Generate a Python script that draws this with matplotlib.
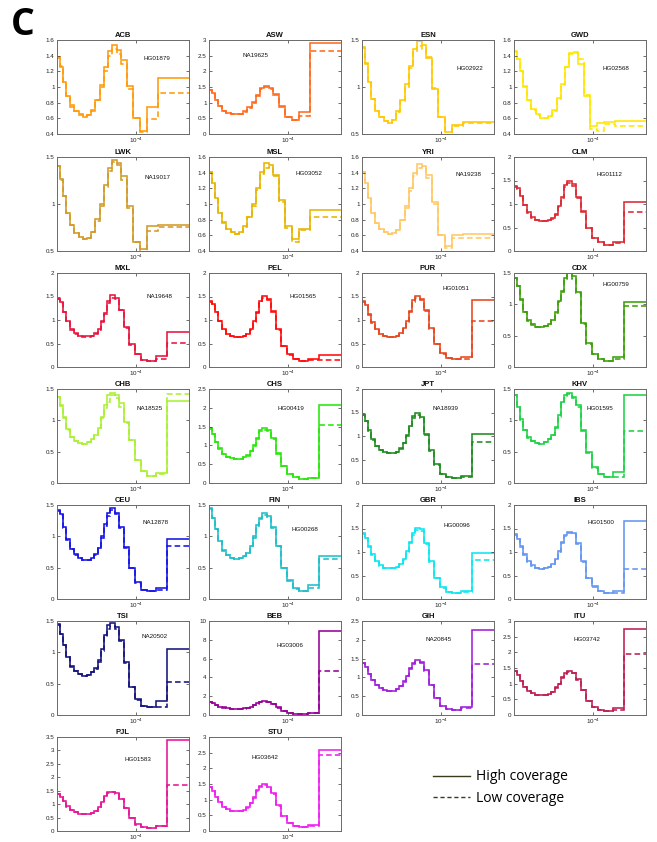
import numpy as np
import matplotlib
matplotlib.use("Agg")
import matplotlib.pyplot as plt
from matplotlib.lines import Line2D
from matplotlib.ticker import FixedLocator, NullLocator, FuncFormatter

# ---------------- data ----------------
# log10 of scaled time at segment boundaries
afr_log_t = [-5.80, -5.74, -5.662, -5.587, -5.497, -5.404, -5.305, -5.215, -5.116, -5.026,
             -4.942, -4.834, -4.738, -4.645, -4.546, -4.432, -4.342, -4.204, -4.084, -3.916,
             -3.748, -3.505, -2.80]
nonafr_log_t = [-5.80, -5.743, -5.668, -5.593, -5.509, -5.416, -5.32, -5.224, -5.122, -5.035,
                -4.954, -4.876, -4.804, -4.732, -4.66, -4.585, -4.486, -4.381, -4.267, -4.153,
                -4.03, -3.88, -3.748, -3.559, -3.31, -2.80]

populations = ["ACB", "ASW", "ESN", "GWD", "LWK", "MSL", "YRI", "CLM", "MXL", "PEL", "PUR", "CDX",
               "CHB", "CHS", "JPT", "KHV", "CEU", "FIN", "GBR", "IBS", "TSI", "BEB", "GIH", "ITU",
               "PJL", "STU"]
sample_ids = ["HG01879", "NA19625", "HG02922", "HG02568", "NA19017", "HG03052", "NA19238",
              "HG01112", "NA19648", "HG01565", "HG01051", "HG00759", "NA18525", "HG00419",
              "NA18939", "HG01595", "NA12878", "HG00268", "HG00096", "HG01500", "NA20502",
              "HG03006", "NA20845", "HG03742", "HG01583", "HG03642"]
african = ["ACB", "ASW", "ESN", "GWD", "LWK", "MSL", "YRI"]
y_max = [1.6, 3, 1.5, 1.6, 1.5, 1.6, 1.6, 2, 2, 2, 2, 1.5, 1.5, 2.5, 2, 1.5, 1.5, 1.5, 2, 2,
         1.5, 10, 2.5, 3, 3.5, 3]
y_min = [0.4, 0, 0.5, 0.4, 0.5, 0.4, 0.4, 0, 0, 0, 0, 0, 0, 0, 0, 0, 0, 0, 0, 0, 0, 0, 0, 0, 0, 0]
y_step = [0.2, 0.5, 0.5, 0.2, 0.5, 0.2, 0.2, 0.5, 0.5, 0.5, 0.5, 0.5, 0.5, 0.5, 0.5, 0.5, 0.5,
          0.5, 0.5, 0.5, 0.5, 2, 0.5, 0.5, 0.5, 0.5]

ACB_high = [1.37, 1.26, 1.07, 0.89, 0.75, 0.69, 0.64, 0.62, 0.64, 0.70, 0.84, 1.02, 1.25, 1.46, 1.54, 1.47, 1.34, 1.01, 0.61, 0.44, 0.74, 1.12]
ACB_low = [1.38, 1.27, 1.06, 0.88, 0.77, 0.69, 0.65, 0.63, 0.64, 0.71, 0.83, 1.00, 1.20, 1.40, 1.48, 1.42, 1.30, 0.98, 0.60, 0.42, 0.59, 0.92]
ASW_high = [1.42, 1.30, 1.10, 0.88, 0.75, 0.68, 0.64, 0.63, 0.65, 0.72, 0.85, 1.02, 1.25, 1.47, 1.54, 1.47, 1.27, 0.88, 0.55, 0.45, 0.70, 2.92]
ASW_low = [1.42, 1.29, 1.09, 0.88, 0.75, 0.68, 0.64, 0.63, 0.65, 0.71, 0.84, 1.00, 1.22, 1.43, 1.50, 1.45, 1.25, 0.87, 0.54, 0.44, 0.58, 2.65]
ESN_high = [1.42, 1.25, 1.05, 0.87, 0.75, 0.68, 0.64, 0.62, 0.65, 0.74, 0.86, 1.03, 1.22, 1.40, 1.49, 1.45, 1.31, 0.98, 0.68, 0.52, 0.60, 0.63]
ESN_low = [1.43, 1.26, 1.05, 0.87, 0.75, 0.68, 0.64, 0.62, 0.65, 0.73, 0.85, 1.00, 1.20, 1.37, 1.44, 1.40, 1.32, 0.99, 0.68, 0.49, 0.58, 0.62]
GWD_high = [1.45, 1.36, 1.21, 1.01, 0.84, 0.72, 0.65, 0.61, 0.60, 0.63, 0.71, 0.86, 1.04, 1.26, 1.44, 1.45, 1.29, 0.88, 0.50, 0.54, 0.55, 0.57]
GWD_low = [1.46, 1.36, 1.20, 1.00, 0.83, 0.71, 0.64, 0.60, 0.60, 0.63, 0.70, 0.85, 1.02, 1.25, 1.42, 1.44, 1.36, 0.90, 0.46, 0.44, 0.53, 0.50]
LWK_high = [1.40, 1.27, 1.08, 0.90, 0.78, 0.69, 0.65, 0.63, 0.64, 0.70, 0.84, 1.00, 1.20, 1.38, 1.47, 1.44, 1.30, 0.98, 0.60, 0.52, 0.77, 0.78]
LWK_low = [1.40, 1.26, 1.08, 0.90, 0.78, 0.69, 0.65, 0.63, 0.64, 0.70, 0.82, 0.98, 1.18, 1.35, 1.45, 1.42, 1.26, 0.96, 0.60, 0.48, 0.71, 0.76]
MSL_high = [1.41, 1.27, 1.08, 0.89, 0.77, 0.68, 0.64, 0.62, 0.64, 0.72, 0.84, 1.00, 1.20, 1.41, 1.52, 1.50, 1.37, 1.05, 0.72, 0.55, 0.68, 0.92]
MSL_low = [1.41, 1.27, 1.08, 0.89, 0.76, 0.68, 0.64, 0.62, 0.64, 0.71, 0.83, 0.98, 1.18, 1.38, 1.46, 1.47, 1.36, 1.03, 0.70, 0.51, 0.67, 0.83]
YRI_high = [1.41, 1.27, 1.08, 0.88, 0.76, 0.68, 0.64, 0.62, 0.63, 0.67, 0.80, 0.97, 1.20, 1.40, 1.51, 1.49, 1.37, 1.02, 0.61, 0.46, 0.61, 0.62]
YRI_low = [1.41, 1.26, 1.07, 0.88, 0.76, 0.68, 0.64, 0.62, 0.63, 0.67, 0.79, 0.95, 1.17, 1.36, 1.46, 1.47, 1.33, 1.00, 0.60, 0.44, 0.56, 0.56]

CLM_high = [1.38, 1.33, 1.18, 0.98, 0.82, 0.72, 0.67, 0.64, 0.63, 0.65, 0.70, 0.78, 0.95, 1.15, 1.40, 1.50, 1.42, 1.15, 0.85, 0.50, 0.28, 0.20, 0.13, 0.20, 1.05]
CLM_low = [1.36, 1.32, 1.17, 0.97, 0.81, 0.71, 0.66, 0.63, 0.63, 0.65, 0.69, 0.77, 0.93, 1.12, 1.36, 1.45, 1.38, 1.13, 0.84, 0.50, 0.28, 0.19, 0.13, 0.17, 0.82]
MXL_high = [1.45, 1.38, 1.17, 0.97, 0.80, 0.72, 0.67, 0.65, 0.65, 0.67, 0.72, 0.80, 0.97, 1.15, 1.40, 1.53, 1.47, 1.22, 0.85, 0.48, 0.28, 0.15, 0.12, 0.24, 0.74]
MXL_low = [1.44, 1.37, 1.16, 0.96, 0.79, 0.71, 0.66, 0.64, 0.64, 0.67, 0.71, 0.79, 0.95, 1.13, 1.37, 1.47, 1.45, 1.22, 0.83, 0.47, 0.27, 0.15, 0.12, 0.16, 0.51]
PEL_high = [1.40, 1.35, 1.17, 0.98, 0.80, 0.71, 0.66, 0.64, 0.64, 0.66, 0.70, 0.80, 0.97, 1.18, 1.40, 1.51, 1.45, 1.20, 0.80, 0.45, 0.27, 0.17, 0.12, 0.17, 0.26]
PEL_low = [1.39, 1.34, 1.16, 0.97, 0.79, 0.70, 0.66, 0.64, 0.64, 0.66, 0.70, 0.79, 0.95, 1.15, 1.37, 1.46, 1.42, 1.18, 0.78, 0.44, 0.26, 0.16, 0.12, 0.15, 0.15]
PUR_high = [1.40, 1.32, 1.12, 0.95, 0.80, 0.70, 0.66, 0.64, 0.64, 0.67, 0.72, 0.82, 0.97, 1.20, 1.42, 1.52, 1.45, 1.22, 0.82, 0.50, 0.30, 0.20, 0.18, 0.22, 1.42]
PUR_low = [1.39, 1.31, 1.11, 0.94, 0.79, 0.70, 0.66, 0.64, 0.64, 0.67, 0.71, 0.81, 0.95, 1.17, 1.38, 1.47, 1.42, 1.20, 0.80, 0.48, 0.28, 0.20, 0.18, 0.18, 0.97]
CDX_high = [1.42, 1.30, 1.08, 0.88, 0.75, 0.68, 0.64, 0.64, 0.65, 0.68, 0.75, 0.87, 1.05, 1.22, 1.42, 1.50, 1.45, 1.20, 0.70, 0.38, 0.21, 0.13, 0.10, 0.16, 1.03]
CDX_low = [1.42, 1.29, 1.07, 0.87, 0.74, 0.67, 0.64, 0.64, 0.65, 0.68, 0.75, 0.86, 1.03, 1.20, 1.40, 1.47, 1.40, 1.18, 0.68, 0.37, 0.20, 0.13, 0.10, 0.13, 0.98]
CHB_high = [1.38, 1.24, 1.05, 0.86, 0.73, 0.67, 0.64, 0.63, 0.65, 0.70, 0.77, 0.88, 1.05, 1.25, 1.40, 1.43, 1.40, 1.27, 0.98, 0.68, 0.36, 0.19, 0.11, 0.16, 1.31]
CHB_low = [1.38, 1.23, 1.04, 0.85, 0.73, 0.67, 0.64, 0.63, 0.65, 0.70, 0.77, 0.87, 1.03, 1.20, 1.30, 1.40, 1.36, 1.22, 0.95, 0.68, 0.37, 0.19, 0.11, 0.14, 1.42]
CHS_high = [1.45, 1.30, 1.10, 0.92, 0.78, 0.70, 0.66, 0.64, 0.65, 0.68, 0.74, 0.85, 1.00, 1.20, 1.40, 1.45, 1.40, 1.20, 0.80, 0.45, 0.25, 0.15, 0.10, 0.14, 2.08]
CHS_low = [1.44, 1.29, 1.09, 0.91, 0.77, 0.70, 0.66, 0.64, 0.65, 0.68, 0.73, 0.84, 0.98, 1.18, 1.37, 1.42, 1.38, 1.18, 0.78, 0.44, 0.24, 0.15, 0.10, 0.14, 1.55]
JPT_high = [1.45, 1.32, 1.12, 0.93, 0.79, 0.70, 0.65, 0.63, 0.64, 0.67, 0.74, 0.86, 1.02, 1.22, 1.42, 1.50, 1.40, 1.05, 0.70, 0.40, 0.20, 0.12, 0.10, 0.15, 1.04]
JPT_low = [1.44, 1.31, 1.11, 0.92, 0.78, 0.70, 0.65, 0.63, 0.64, 0.67, 0.73, 0.85, 1.00, 1.19, 1.38, 1.45, 1.38, 1.03, 0.68, 0.39, 0.19, 0.12, 0.10, 0.13, 0.88]
KHV_high = [1.40, 1.22, 1.02, 0.85, 0.73, 0.67, 0.64, 0.63, 0.65, 0.70, 0.77, 0.90, 1.08, 1.30, 1.40, 1.43, 1.38, 1.25, 0.85, 0.50, 0.25, 0.15, 0.10, 0.18, 1.41]
KHV_low = [1.40, 1.21, 1.01, 0.84, 0.72, 0.67, 0.64, 0.63, 0.65, 0.70, 0.76, 0.88, 1.05, 1.27, 1.35, 1.42, 1.36, 1.22, 0.83, 0.48, 0.24, 0.14, 0.10, 0.10, 0.83]
CEU_high = [1.42, 1.35, 1.15, 0.95, 0.80, 0.72, 0.66, 0.63, 0.63, 0.66, 0.72, 0.82, 1.00, 1.20, 1.37, 1.45, 1.38, 1.15, 0.83, 0.50, 0.27, 0.15, 0.12, 0.17, 0.95]
CEU_low = [1.41, 1.34, 1.14, 0.94, 0.79, 0.71, 0.66, 0.63, 0.63, 0.66, 0.71, 0.81, 0.98, 1.17, 1.33, 1.42, 1.36, 1.13, 0.82, 0.49, 0.26, 0.15, 0.12, 0.15, 0.85]
FIN_high = [1.45, 1.30, 1.12, 0.93, 0.78, 0.70, 0.66, 0.64, 0.65, 0.68, 0.74, 0.85, 1.00, 1.18, 1.30, 1.37, 1.33, 1.15, 0.85, 0.50, 0.30, 0.17, 0.12, 0.22, 0.68]
FIN_low = [1.44, 1.29, 1.11, 0.92, 0.77, 0.70, 0.66, 0.64, 0.65, 0.68, 0.73, 0.84, 0.98, 1.16, 1.27, 1.34, 1.31, 1.13, 0.84, 0.49, 0.29, 0.16, 0.12, 0.18, 0.64]
GBR_high = [1.40, 1.30, 1.12, 0.95, 0.80, 0.72, 0.67, 0.65, 0.65, 0.68, 0.75, 0.85, 1.02, 1.22, 1.40, 1.52, 1.48, 1.20, 0.80, 0.45, 0.25, 0.15, 0.12, 0.16, 0.97]
GBR_low = [1.39, 1.29, 1.11, 0.94, 0.79, 0.71, 0.67, 0.65, 0.65, 0.68, 0.74, 0.84, 1.00, 1.19, 1.36, 1.46, 1.45, 1.18, 0.78, 0.44, 0.24, 0.14, 0.12, 0.15, 0.82]
IBS_high = [1.38, 1.28, 1.12, 0.95, 0.80, 0.72, 0.66, 0.64, 0.65, 0.68, 0.74, 0.85, 1.02, 1.22, 1.37, 1.43, 1.40, 1.20, 0.80, 0.45, 0.27, 0.17, 0.13, 0.18, 1.67]
IBS_low = [1.37, 1.27, 1.11, 0.94, 0.79, 0.71, 0.66, 0.64, 0.65, 0.68, 0.73, 0.84, 1.00, 1.19, 1.33, 1.40, 1.38, 1.18, 0.79, 0.44, 0.26, 0.16, 0.13, 0.13, 0.63]
TSI_high = [1.45, 1.30, 1.12, 0.93, 0.78, 0.70, 0.66, 0.63, 0.64, 0.68, 0.75, 0.87, 1.05, 1.28, 1.43, 1.47, 1.40, 1.20, 0.85, 0.45, 0.25, 0.15, 0.12, 0.22, 1.05]
TSI_low = [1.44, 1.29, 1.11, 0.92, 0.77, 0.70, 0.66, 0.63, 0.64, 0.68, 0.74, 0.85, 1.02, 1.24, 1.38, 1.42, 1.37, 1.18, 0.83, 0.44, 0.24, 0.14, 0.12, 0.12, 0.53]
BEB_high = [1.40, 1.25, 1.10, 0.90, 0.80, 0.72, 0.66, 0.64, 0.65, 0.70, 0.78, 0.90, 1.05, 1.25, 1.40, 1.45, 1.40, 1.15, 0.80, 0.45, 0.25, 0.15, 0.12, 0.20, 8.90]
BEB_low = [1.39, 1.24, 1.09, 0.89, 0.79, 0.71, 0.66, 0.64, 0.65, 0.69, 0.77, 0.88, 1.02, 1.22, 1.36, 1.42, 1.37, 1.13, 0.78, 0.44, 0.24, 0.15, 0.12, 0.16, 4.70]
GIH_high = [1.38, 1.28, 1.10, 0.93, 0.80, 0.72, 0.66, 0.64, 0.65, 0.69, 0.77, 0.90, 1.05, 1.25, 1.38, 1.45, 1.40, 1.20, 0.80, 0.45, 0.25, 0.15, 0.13, 0.22, 2.27]
GIH_low = [1.37, 1.27, 1.09, 0.92, 0.79, 0.71, 0.66, 0.64, 0.65, 0.69, 0.76, 0.88, 1.03, 1.22, 1.35, 1.42, 1.38, 1.18, 0.79, 0.44, 0.24, 0.15, 0.13, 0.18, 1.36]
ITU_high = [1.40, 1.28, 1.08, 0.90, 0.77, 0.70, 0.65, 0.63, 0.64, 0.68, 0.75, 0.88, 1.00, 1.20, 1.35, 1.40, 1.35, 1.15, 0.80, 0.45, 0.25, 0.15, 0.13, 0.22, 2.75]
ITU_low = [1.39, 1.27, 1.07, 0.89, 0.76, 0.69, 0.65, 0.63, 0.64, 0.68, 0.74, 0.86, 0.98, 1.17, 1.32, 1.38, 1.33, 1.13, 0.79, 0.44, 0.24, 0.15, 0.13, 0.15, 1.95]
PJL_high = [1.38, 1.28, 1.12, 0.92, 0.78, 0.70, 0.65, 0.63, 0.64, 0.68, 0.76, 0.90, 1.08, 1.30, 1.45, 1.47, 1.40, 1.20, 0.85, 0.50, 0.25, 0.15, 0.13, 0.20, 3.40]
PJL_low = [1.37, 1.27, 1.11, 0.91, 0.77, 0.70, 0.65, 0.63, 0.64, 0.68, 0.75, 0.88, 1.05, 1.27, 1.41, 1.44, 1.38, 1.18, 0.84, 0.49, 0.24, 0.15, 0.13, 0.18, 1.72]
STU_high = [1.40, 1.28, 1.10, 0.92, 0.78, 0.70, 0.65, 0.63, 0.64, 0.68, 0.76, 0.90, 1.08, 1.30, 1.45, 1.50, 1.42, 1.20, 0.82, 0.48, 0.25, 0.15, 0.13, 0.20, 2.60]
STU_low = [1.39, 1.27, 1.09, 0.91, 0.77, 0.70, 0.65, 0.63, 0.64, 0.68, 0.75, 0.88, 1.05, 1.27, 1.41, 1.46, 1.40, 1.18, 0.81, 0.47, 0.24, 0.15, 0.13, 0.17, 2.43]

high_cov = [ACB_high, ASW_high, ESN_high, GWD_high, LWK_high, MSL_high, YRI_high, CLM_high,
            MXL_high, PEL_high, PUR_high, CDX_high, CHB_high, CHS_high, JPT_high, KHV_high,
            CEU_high, FIN_high, GBR_high, IBS_high, TSI_high, BEB_high, GIH_high, ITU_high,
            PJL_high, STU_high]
low_cov = [ACB_low, ASW_low, ESN_low, GWD_low, LWK_low, MSL_low, YRI_low, CLM_low,
           MXL_low, PEL_low, PUR_low, CDX_low, CHB_low, CHS_low, JPT_low, KHV_low,
           CEU_low, FIN_low, GBR_low, IBS_low, TSI_low, BEB_low, GIH_low, ITU_low,
           PJL_low, STU_low]

# ---------------- styles / layout ----------------
colors = ["#ff9a0a", "#ff6a1e", "#ffc800", "#ffe600", "#d29a28", "#e6b400", "#ffc864",
          "#dc2832", "#e6143c", "#ff0a0a", "#e6461e", "#3ca00a", "#aaf032", "#28e60a",
          "#1e8c1e", "#1ed246", "#1414e6", "#1ebec8", "#0ae6f0", "#6496f0", "#14147d",
          "#960096", "#a01edc", "#be1e50", "#e61496", "#f01ef0"]
label_pos = [(0.76, 0.80), (0.35, 0.83), (0.82, 0.70), (0.77, 0.70), (0.76, 0.78), (0.76, 0.82),
             (0.81, 0.81), (0.72, 0.81), (0.78, 0.75), (0.71, 0.75), (0.71, 0.83), (0.77, 0.88),
             (0.70, 0.79), (0.62, 0.79), (0.63, 0.79), (0.65, 0.79), (0.75, 0.81), (0.73, 0.74),
             (0.72, 0.78), (0.66, 0.81), (0.74, 0.83), (0.61, 0.74), (0.58, 0.80), (0.55, 0.80),
             (0.61, 0.76), (0.42, 0.78)]

W, H = 657, 842
col_left = [57, 209, 362, 514]
row_top = [40, 157, 273, 389, 505, 621, 737]
ax_w, ax_h = 132, 94

plt.rcParams["font.family"] = ["Liberation Sans", "DejaVu Sans"]
plt.rcParams["mathtext.fontset"] = "custom"
plt.rcParams["mathtext.rm"] = "Liberation Sans"
plt.rcParams["mathtext.it"] = "Liberation Sans"

fig = plt.figure(figsize=(W / 100, H / 100), dpi=100)

for i, pop in enumerate(populations):
    r, c = divmod(i, 4)
    rect = [col_left[c] / W, 1 - (row_top[r] + ax_h) / H, ax_w / W, ax_h / H]
    ax = fig.add_axes(rect)
    edges = np.power(10.0, afr_log_t if pop in african else nonafr_log_t)
    ax.stairs(high_cov[i], edges, baseline=None, color=colors[i], lw=1.15)
    ax.stairs(low_cov[i], edges, baseline=None, color=colors[i], lw=1.15,
              linestyle=(0, (3.5, 2.0)))
    ax.set_xscale("log")
    ax.set_xlim(edges[0], edges[-1])
    ax.set_ylim(y_min[i], y_max[i])
    ax.xaxis.set_major_locator(FixedLocator([1e-4]))
    ax.xaxis.set_minor_locator(NullLocator())
    ax.xaxis.set_major_formatter(FuncFormatter(lambda v, p: r"$10^{-4}$"))
    yt = np.arange(y_min[i], y_max[i] + 1e-9, y_step[i])
    ax.set_yticks(yt)
    ax.yaxis.set_major_formatter(FuncFormatter(lambda v, p: "%g" % round(v, 2)))
    ax.tick_params(direction="in", top=True, right=True, length=2, width=0.5,
                   labelsize=4.5, pad=1.8, colors="#333333", labelcolor="#222222")
    ax.tick_params(axis="x", pad=1.2)
    for s in ax.spines.values():
        s.set_color("#6a6a6a")
        s.set_linewidth(0.7)
    ax.set_title(pop, fontsize=5.5, fontweight="bold", pad=2.0, color="#111111")
    ax.text(label_pos[i][0], label_pos[i][1], sample_ids[i], transform=ax.transAxes,
            fontsize=4.5, ha="center", va="center", color="#111111")

legend_color = "#3c3a1e"
handles = [Line2D([], [], color=legend_color, lw=1.0),
           Line2D([], [], color=legend_color, lw=1.0, linestyle=(0, (3, 2)))]
fig.legend(handles, ["High coverage", "Low coverage"], loc="upper left",
           bbox_to_anchor=(420 / W, 1 - 757 / H), frameon=False,
           prop={"family": "Open Sans", "size": 10}, handlelength=2.7,
           handletextpad=0.45, labelspacing=0.45)

fig.text(11 / W, 1 - 6 / H, "C", fontsize=27, fontweight="bold", family="Open Sans",
         ha="left", va="top")

fig.savefig("out.png", dpi=100)
